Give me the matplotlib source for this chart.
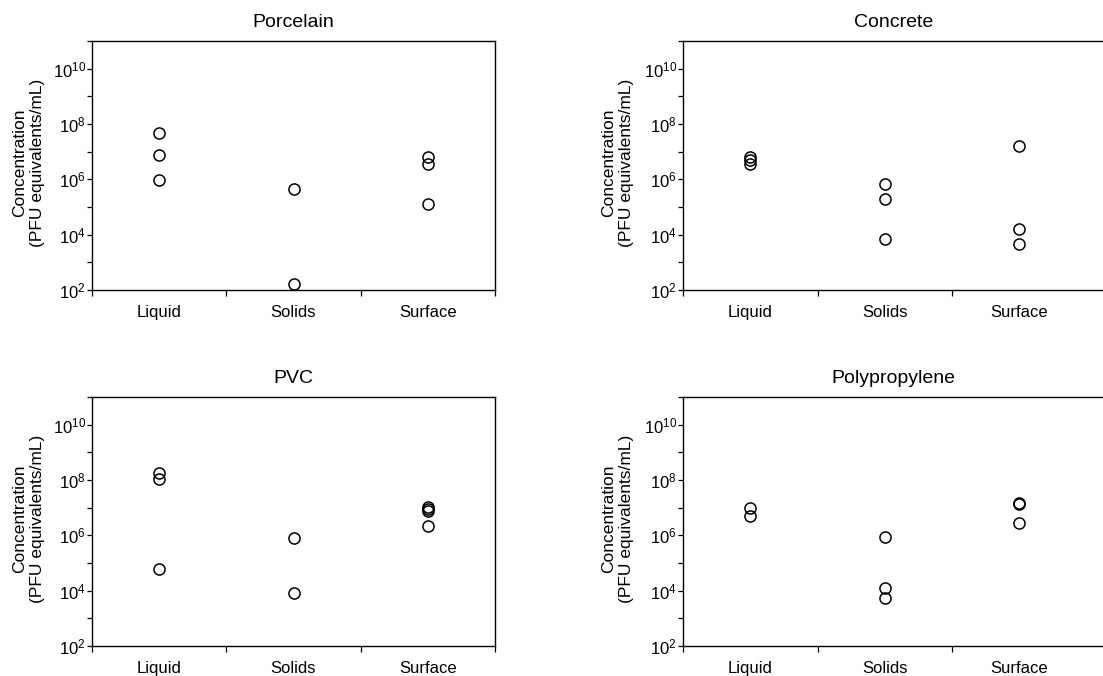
import matplotlib
matplotlib.use("Agg")
import matplotlib.pyplot as plt
import numpy as np

plt.rcParams['font.family'] = ['Liberation Sans', 'DejaVu Sans']
plt.rcParams['mathtext.fontset'] = 'custom'
plt.rcParams['mathtext.rm'] = 'Liberation Sans'
plt.rcParams['mathtext.it'] = 'Liberation Sans'
plt.rcParams['mathtext.bf'] = 'Liberation Sans'

categories = ['Liquid', 'Solids', 'Surface']
titles = ['Porcelain', 'Concrete', 'PVC', 'Polypropylene']

porcelain_liquid = [4.8e7, 7.9e6, 9.3e5]
porcelain_solids = [4.5e5, 160]
porcelain_surface = [6.2e6, 3.6e6, 1.24e5]

concrete_liquid = [6.4e6, 4.9e6, 3.5e6]
concrete_solids = [6.7e5, 2.0e5, 6.9e3]
concrete_surface = [1.6e7, 1.6e4, 4.6e3]

pvc_liquid = [1.8e8, 1.07e8, 6.2e4]
pvc_solids = [8.3e5, 8.3e3]
pvc_surface = [1.05e7, 9.0e6, 7.8e6, 2.2e6]

pp_liquid = [9.5e6, 4.8e6]
pp_solids = [8.5e5, 1.2e4, 5.2e3]
pp_surface = [1.5e7, 1.35e7, 2.8e6]

panels = [
    [porcelain_liquid, porcelain_solids, porcelain_surface],
    [concrete_liquid, concrete_solids, concrete_surface],
    [pvc_liquid, pvc_solids, pvc_surface],
    [pp_liquid, pp_solids, pp_surface],
]

major_exp = [2, 4, 6, 8, 10]
minor_exp = [3, 5, 7, 9, 11]

fig = plt.figure(figsize=(11.03, 6.76), dpi=100)

# axes boxes (left, bottom, width, height); right column runs off the page
boxes = [
    [0.0834, 0.571, 0.3654, 0.3683],
    [0.6195, 0.571, 0.3805, 0.3683],
    [0.0834, 0.0448, 0.3654, 0.3675],
    [0.6195, 0.0448, 0.3805, 0.3675],
]

for i, (title, groups) in enumerate(zip(titles, panels)):
    ax = fig.add_axes(boxes[i])
    for j, vals in enumerate(groups):
        ax.plot([j + 0.5] * len(vals), vals, 'o', ms=8, mfc='none',
                mec='black', mew=1.1, clip_on=False)
    ax.set_yscale('log')
    ax.set_ylim(1e2, 1e11)
    ax.set_yticks([10.0 ** e for e in major_exp])
    ax.set_yticklabels(['$10^{%d}$' % e for e in major_exp])
    ax.set_yticks([10.0 ** e for e in minor_exp], minor=True)
    ax.set_yticklabels([], minor=True)

    right_col = i % 2 == 1
    if right_col:
        ax.set_xlim(0, 3.125)
        ax.set_xticks([0, 1, 2])
        ax.spines['right'].set_visible(False)
    else:
        ax.set_xlim(0, 3)
        ax.set_xticks([0, 1, 2, 3])
    ax.set_xticklabels([])
    ax.set_xticks([0.5, 1.5, 2.5], minor=True)
    ax.set_xticklabels(categories, minor=True, fontsize=12)
    ax.tick_params(axis='x', which='minor', length=0, pad=11)
    ax.tick_params(axis='x', which='major', length=4, width=0.9,
                   direction='out')
    ax.tick_params(axis='y', which='both', length=3.5, width=0.9,
                   direction='out', pad=1, labelsize=12)
    for s in ax.spines.values():
        s.set_linewidth(1.0)

    ax.set_title(title, fontsize=14, pad=10)
    ax.text(-0.157, 0.51, 'Concentration\n(PFU equivalents/mL)',
            transform=ax.transAxes, rotation=90, ha='center', va='center',
            fontsize=12.5, multialignment='center', linespacing=1.25)

fig.savefig('out.png', dpi=100)
